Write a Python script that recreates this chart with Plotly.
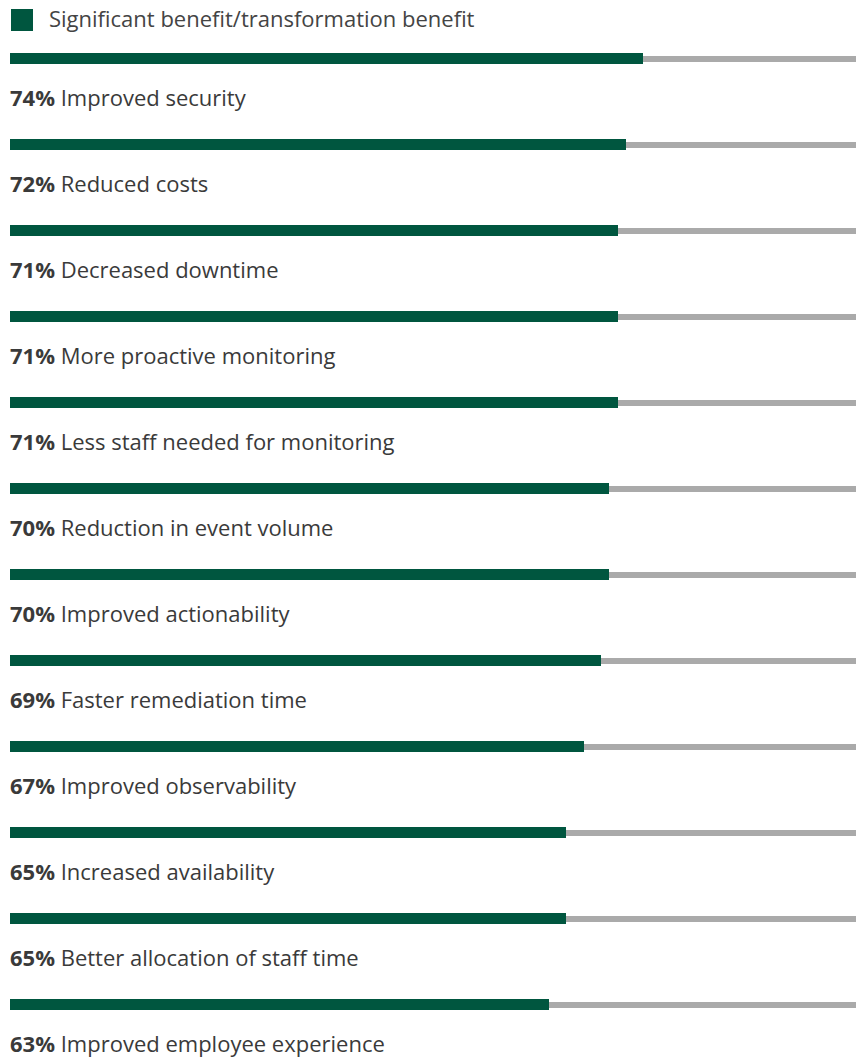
import plotly.graph_objects as go

categories = [
    "Improved security", "Reduced costs", "Decreased downtime",
    "More proactive monitoring", "Less staff needed for monitoring",
    "Reduction in event volume", "Improved actionability",
    "Faster remediation time", "Improved observability",
    "Increased availability", "Better allocation of staff time",
    "Improved employee experience",
]
values = [74, 72, 71, 71, 71, 70, 70, 69, 67, 65, 65, 63]
legend_label = "Significant benefit/transformation benefit"

GREEN = "#00563F"
GREY = "#AAAAAA"
W, H = 856, 1061
ML = 10
X_MAX = (W - ML) / 8.56
ROW_PX = 86.0
TOP_PX = 58.5
FONT = "Open Sans"

n = len(categories)
pos = list(range(n))
y_top = -TOP_PX / ROW_PX
y_bot = (H - TOP_PX) / ROW_PX

fig = go.Figure()
fig.add_trace(go.Bar(
    x=[X_MAX + 5] * n, y=pos, orientation="h", width=6 / ROW_PX,
    marker=dict(color=GREY, line=dict(width=0)), showlegend=False, hoverinfo="skip",
))
fig.add_trace(go.Bar(
    x=values, y=pos, orientation="h", width=11 / ROW_PX,
    marker=dict(color=GREEN, line=dict(width=0)), name=legend_label, showlegend=False,
))

for i, (c, v) in enumerate(zip(categories, values)):
    fig.add_annotation(
        x=0, y=i + 38 / ROW_PX, xref="x", yref="y", xanchor="left", yanchor="middle",
        text=f"<b>{v}%</b> {c}", showarrow=False, xshift=-2,
        font=dict(family=FONT, size=22, color="#3a3a3a"),
    )

# legend
def px(xp):
    return (xp - ML) / (W - ML)

def py(yp):
    return 1 - yp / H

fig.add_shape(type="rect", xref="paper", yref="paper",
              x0=px(11), x1=px(33), y0=py(9), y1=py(31),
              fillcolor=GREEN, line=dict(width=0))
fig.add_annotation(x=px(47), y=py(18), xref="paper", yref="paper",
                   xanchor="left", yanchor="middle", showarrow=False,
                   text=legend_label, font=dict(family=FONT, size=22, color="#444444"))

fig.update_layout(
    width=W, height=H, margin=dict(l=ML, r=0, t=0, b=0),
    paper_bgcolor="white", plot_bgcolor="white",
    barmode="overlay", bargap=0,
    xaxis=dict(range=[0, X_MAX], visible=False, fixedrange=True),
    yaxis=dict(range=[y_bot, y_top], visible=False, fixedrange=True),
)
fig.write_html(
    "out.html",
    config={"displayModeBar": False},
    post_script="document.body.style.margin='0';document.body.style.overflow='hidden';",
)
